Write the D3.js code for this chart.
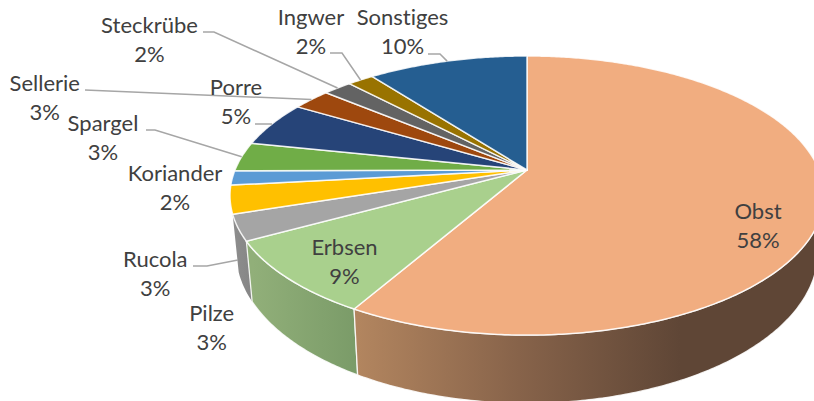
<!DOCTYPE html>
<html>
<head>
<meta charset="utf-8">
<script src="https://cdn.jsdelivr.net/npm/d3@7"></script>
<style>
html,body{margin:0;padding:0;background:#fff;overflow:hidden}
svg{display:block}
text{font-family:Lato,"Open Sans",sans-serif;font-size:22px;fill:#404040;text-anchor:middle;font-variant-ligatures:none}
</style>
</head>
<body>
<svg id="c" width="814" height="401"></svg>
<script>
const categories = ["Obst","Erbsen","Pilze","Rucola","Koriander","Spargel","Porre","Sellerie","Steckrübe","Ingwer","Sonstiges"];
const values = [58.3,8.7,3,3.25,1.65,3.4,5.25,2.5,1.85,1.7,10.4];
const colors = ["#F1AD80","#A9D08D","#A5A5A5","#FFC000","#5B9BD5","#70AD47","#264478","#9E480E","#636363","#997300","#255E91"];
// label layout: centre x, first baseline y
const labelPos = [[758,219],[344.5,255],[211.7,321],[155.3,267],[175,181],[103,131],[236,95],[44.7,91],[149.5,33],[311,25],[402.5,25]];
// leader lines: label-side points; the end lies on the slice rim unless given by `end`
const leaderPts = {
  "Steckrübe":[[203,32],[214,32]],
  "Ingwer":[[330,53],[342,53]],
  "Sonstiges":[[428,54],[440,54]],
  "Sellerie":[[85,90]],
  "Porre":[[255,124]],
  "Spargel":[[146,130],[155,130]],
  "Rucola":[[193,266],[207,266],[238,260]]
};

const q = 0.183;
const topPlane = {cx:527, cy:170, A:292, B:134.9};
const botPlane = {cx:527, cy:224.5, A:286, B:146};
const project = (p, a) => {
  const u = Math.sin(a), v = Math.cos(a), w = 1 + q*v;
  return [p.cx + p.A*u/w, p.cy - p.B*v/w];
};
const arcPts = (p, a0, a1) => {
  const n = Math.max(2, Math.ceil(Math.abs(a1-a0)/0.01));
  return d3.range(n+1).map(i => project(p, a0 + (a1-a0)*i/n));
};

const svg = d3.select("#c");
const defs = svg.append("defs");
const line = d3.line();
const arcs = d3.pie().sort(null).value(d=>d)(values);

function grad(id, stops, x1, x2){
  const g = defs.append("linearGradient").attr("id",id).attr("gradientUnits","userSpaceOnUse")
    .attr("x1",x1).attr("x2",x2).attr("y1",0).attr("y2",0);
  stops.forEach(s=>g.append("stop").attr("offset",s[0]).attr("stop-color",s[1]));
}
grad("wObst",[[0,"#B2855F"],[0.5,"#87634A"],[1,"#5F4636"]],358,680);
grad("wErb",[[0,"#91AF79"],[1,"#7A9B68"]],253,358);
grad("wPil",[[0,"#8E8E8E"],[1,"#858585"]],232,253);

// side walls, back to front
const walls = [
  {i:2, a0:arcs[2].startAngle, a1:arcs[2].endAngle, fill:"url(#wPil)"},
  {i:1, a0:arcs[1].startAngle, a1:arcs[1].endAngle, fill:"url(#wErb)"},
  {i:0, a0:Math.PI*0.45, a1:arcs[0].endAngle, fill:"url(#wObst)"}
];
svg.append("g").selectAll("path").data(walls).join("path")
  .attr("d", d => line(arcPts(topPlane,d.a0,d.a1).concat(arcPts(botPlane,d.a1,d.a0)))+"Z")
  .attr("fill", d=>d.fill)
  .attr("stroke", d=>d.i===2 ? "none" : "#fff")
  .attr("stroke-opacity",0.85)
  .attr("stroke-width",1.3);

// top face
svg.append("g").selectAll("path").data(arcs).join("path")
  .attr("d", d => line([[topPlane.cx,topPlane.cy]].concat(arcPts(topPlane,d.startAngle,d.endAngle)))+"Z")
  .attr("fill", (d,i)=>colors[i])
  .attr("stroke","#fff").attr("stroke-opacity",0.85).attr("stroke-width",1.5).attr("stroke-linejoin","round");

// leader lines
const leaders = categories.map((c,i)=>{
  const pts = leaderPts[c];
  if(!pts) return null;
  if(c==="Rucola") return pts;
  const mid = (arcs[i].startAngle+arcs[i].endAngle)/2;
  return pts.concat([project(topPlane,mid)]);
}).filter(Boolean);
svg.append("g").selectAll("path").data(leaders).join("path")
  .attr("d", line).attr("fill","none").attr("stroke","#A6A6A6").attr("stroke-width",1.5);

// labels
const lab = svg.append("g").selectAll("text").data(categories).join("text")
  .attr("transform",(d,i)=>`translate(${labelPos[i][0]},${labelPos[i][1]})`);
lab.append("tspan").attr("x",0).attr("y",0).text(d=>d);
lab.append("tspan").attr("x",0).attr("y",29).text((d,i)=>Math.round(values[i])+"%");
</script>
</body>
</html>
